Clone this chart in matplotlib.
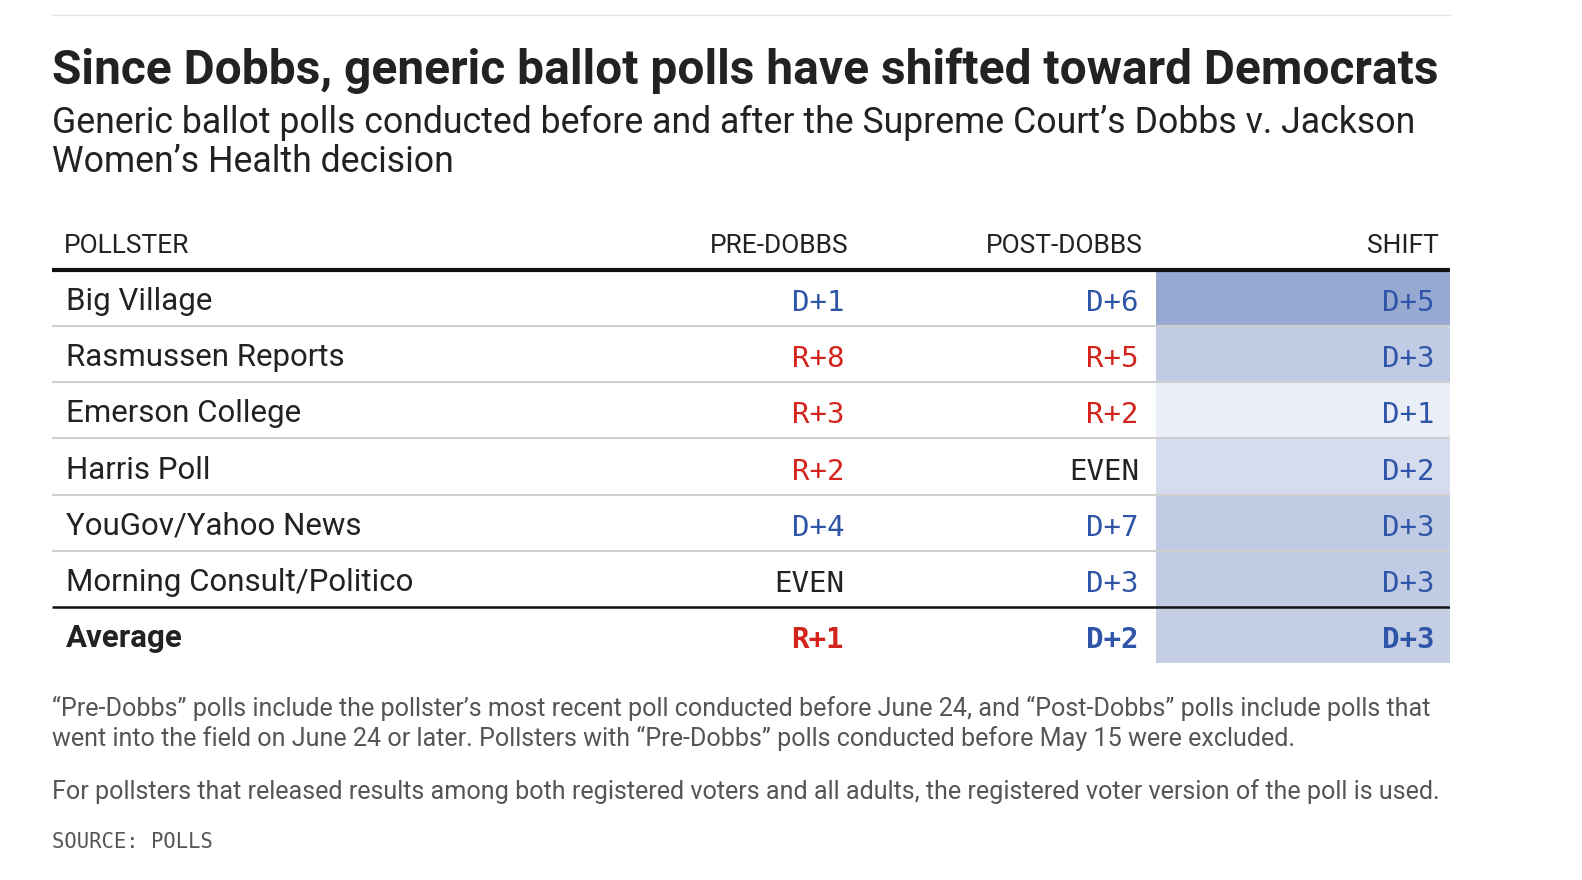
import matplotlib
matplotlib.use("Agg")
import matplotlib.pyplot as plt
from matplotlib.colors import LinearSegmentedColormap, Normalize

W, H = 1582, 880

# margins: positive = Democratic lead, negative = Republican lead
pollsters = ["Big Village", "Rasmussen Reports", "Emerson College",
             "Harris Poll", "YouGov/Yahoo News", "Morning Consult/Politico"]
pre_dobbs = [1, -8, -3, -2, 4, 0]
post_dobbs = [6, -5, -2, 0, 7, 3]
shift = [5, 3, 1, 2, 3, 3]
avg_pre, avg_post, avg_shift = -1.33, 1.5, 2.83
headers = ["POLLSTER", "PRE-DOBBS", "POST-DOBBS", "SHIFT"]

title = "Since Dobbs, generic ballot polls have shifted toward Democrats"
subtitle = ["Generic ballot polls conducted before and after the Supreme Court\u2019s Dobbs v. Jackson",
            "Women\u2019s Health decision"]
notes = ["\u201cPre-Dobbs\u201d polls include the pollster\u2019s most recent poll conducted before June 24, "
         "and \u201cPost-Dobbs\u201d polls include polls that",
         "went into the field on June 24 or later. Pollsters with \u201cPre-Dobbs\u201d polls conducted "
         "before May 15 were excluded.",
         "For pollsters that released results among both registered voters and all adults, "
         "the registered voter version of the poll is used."]
source = "SOURCE: POLLS"

BLUE = "#2f55a8"
RED = "#d3241c"
INK = "#222222"
GREY = "#555555"
SANS = "Roboto"
MONO = "DejaVu Sans Mono"

shift_cmap = LinearSegmentedColormap.from_list("shift", ["#ffffff", "#97a8d1"])
shift_norm = Normalize(0, 5)


def label(v):
    r = int(round(abs(v)))
    if r == 0:
        return "EVEN"
    return ("D+" if v > 0 else "R+") + str(r)


def colour(v):
    r = int(round(abs(v)))
    if r == 0:
        return INK
    return BLUE if v > 0 else RED


fig = plt.figure(figsize=(W / 100, H / 100), dpi=100)
renderer = fig.canvas.get_renderer()


def ftext(x, y, s, **kw):
    return fig.text(x / W, 1 - y / H, s, **kw)


def fit(t, width_px):
    w = t.get_window_extent(renderer).width
    t.set_fontsize(t.get_fontsize() * width_px / w)
    return t.get_fontsize()


# top hairline
fig.add_artist(plt.Line2D([52 / W, 1450 / W], [1 - 15 / H] * 2, color="#e4e4e4", lw=1))

t = ftext(52, 84, title, fontsize=30, fontweight="bold", family=SANS, color=INK, va="baseline")
fit(t, 1384)
t = ftext(52, 133, subtitle[0], fontsize=24, family=SANS, color=INK, va="baseline")
fs = fit(t, 1360)
ftext(52, 172, subtitle[1], fontsize=fs, family=SANS, color=INK, va="baseline")

# table
top, bot = 270, 663
ax = fig.add_axes([52 / W, 1 - bot / H, (1450 - 52) / W, (bot - top) / H])
ax.set_xlim(52, 1450)
ax.set_ylim(6.5, -0.5)
ax.axis("off")
row_px = (bot - top) / 7
base = 12 / row_px  # baseline offset from row centre

shift_all = shift + [avg_shift]
ax.barh(range(7), 1450 - 1156, left=1156, height=1.0,
        color=shift_cmap(shift_norm(shift_all)), zorder=0)
ax.hlines([0.5, 1.5, 2.5, 3.5, 4.5], 52, 1450, color="#cfcfcf", lw=1.5, zorder=1)
ax.hlines([5.5], 52, 1450, color="#111111", lw=1.8, zorder=2)
ax.hlines([-0.5], 52, 1450, color="#111111", lw=3.0, zorder=2, clip_on=False)

hy = -0.5 - (top - 253) / row_px
ax.text(64, hy, headers[0], fontsize=19, family=SANS, color=INK, va="baseline", clip_on=False)
for xr, h in zip([848, 1143, 1439], headers[1:]):
    ax.text(xr, hy, h, fontsize=19, family=SANS, color=INK, va="baseline", ha="right",
            clip_on=False)

rows = list(zip(pollsters, pre_dobbs, post_dobbs, shift)) + [("Average", avg_pre, avg_post, avg_shift)]
for i, (name, pre, post, sh) in enumerate(rows):
    bold = "bold" if name == "Average" else "normal"
    ax.text(66, i + base, name, fontsize=22.5, family=SANS, fontweight=bold, color=INK, va="baseline")
    for xr, v in zip([844, 1139, 1435], [pre, post, sh]):
        ax.text(xr, i + base + 0.02, label(v), fontsize=21, family=MONO, fontweight=bold,
                color=colour(v), va="baseline", ha="right")

# footer
t = ftext(52, 716, notes[0], fontsize=16, family=SANS, color=GREY, va="baseline")
fs = fit(t, 1382)
ftext(52, 746, notes[1], fontsize=fs, family=SANS, color=GREY, va="baseline")
ftext(52, 799, notes[2], fontsize=fs, family=SANS, color=GREY, va="baseline")
t = ftext(52, 848, source, fontsize=14, family=MONO, color=GREY, va="baseline")
fit(t, 162)

fig.savefig("out.png", dpi=100, facecolor="white")
